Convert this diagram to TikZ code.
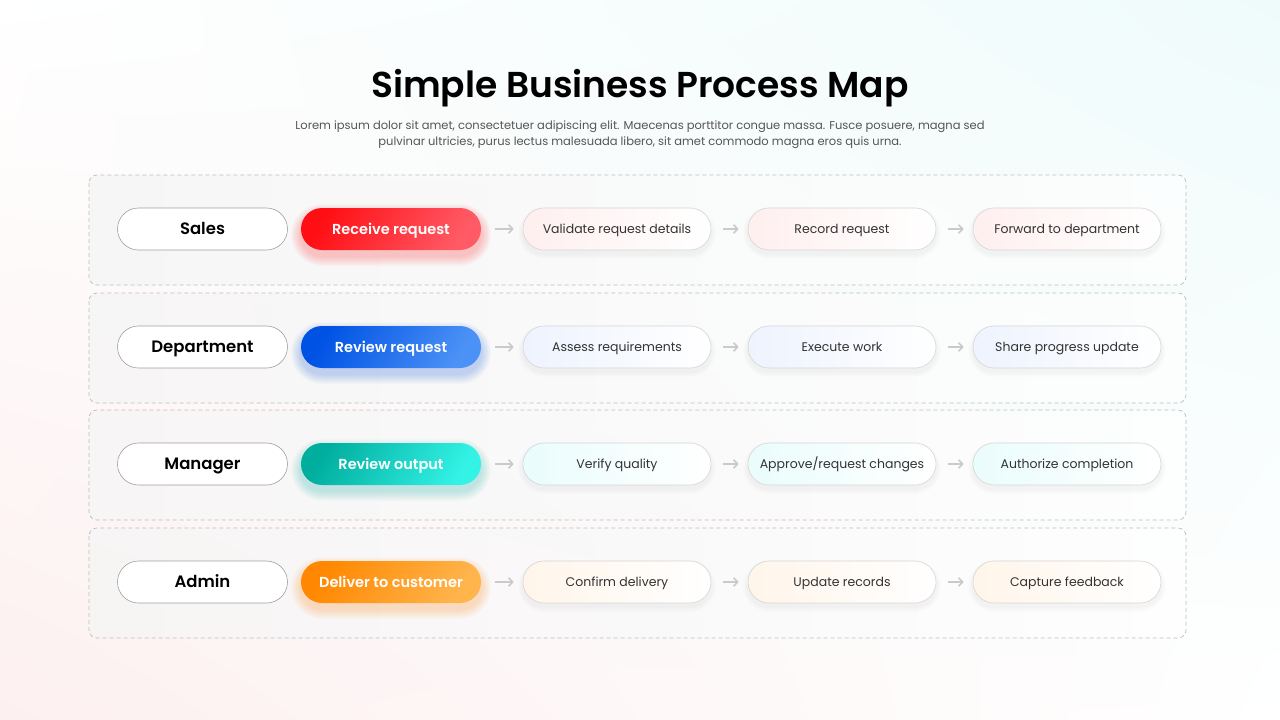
\documentclass[tikz,border=0pt]{standalone}
\usepackage{fontspec}
\setmainfont{Poppins}
\newfontfamily\psemi{Poppins SemiBold}
\usetikzlibrary{arrows.meta,shadings}
\definecolor{redA}{HTML}{FF0F14}\definecolor{redB}{HTML}{FF5A66}\definecolor{redT}{HTML}{FFEFEF}
\definecolor{blueA}{HTML}{0052E4}\definecolor{blueB}{HTML}{4C92F6}\definecolor{blueT}{HTML}{EEF3FE}
\definecolor{tealA}{HTML}{00AE9E}\definecolor{tealB}{HTML}{33F2E6}\definecolor{tealT}{HTML}{EAFCFC}
\definecolor{orgA}{HTML}{FF8800}\definecolor{orgB}{HTML}{FFB44C}\definecolor{orgT}{HTML}{FFF5EA}
\definecolor{bgTR}{HTML}{EFFBFB}\definecolor{bgBL}{HTML}{FDF0F0}
\definecolor{linegray}{HTML}{BEBEBE}\definecolor{pillgray}{HTML}{D6D6D6}\definecolor{arrgray}{HTML}{CACACA}
\definecolor{txtgray}{HTML}{333333}\definecolor{subgray}{HTML}{555555}
\tikzset{
  panel/.style={draw=linegray, dash pattern=on 4pt off 3pt, line width=0.75pt, rounded corners=8pt},
  rolebox/.style={draw=gray!75, line width=0.6pt, fill=white, rounded corners=21pt, minimum width=170pt, minimum height=42pt, inner sep=0pt, text height=13.5pt, text depth=1.9pt, font=\fontsize{16.5}{20}\psemi, text=black},
  actbox/.style={rounded corners=21pt, minimum width=180pt, minimum height=42pt, inner sep=0pt, text height=12pt, text depth=1.8pt, text=white, font=\fontsize{14.5}{18}\psemi},
  stepbox/.style={draw=pillgray, line width=0.6pt, rounded corners=21pt, minimum width=188pt, minimum height=42pt, inner sep=0pt, text height=10.2pt, text depth=1.5pt, text=txtgray, font=\fontsize{12.5}{16}\selectfont},
  arr/.style={draw=arrgray, line width=1.6pt, -{Straight Barb[length=4pt,width=8.5pt]}},
}
\newcommand\lane[8]{%
  % #1 y, #2 idx, #3 role, #4 action, #5 color prefix, #6-#8 steps
  \draw[panel, left color=gray!8, right color=white, fill opacity=0.7] (89,{#1-54}) rectangle (1186,{#1+56});
  \foreach \i in {1,...,10}{
    \fill[#5A, opacity=0.022, rounded corners={21pt+\i pt}] ({301-\i},{#1+6-21-\i}) rectangle ({481+\i},{#1+6+21+\i});
  }
  \foreach \xx in {617,842,1067}{
    \foreach \i in {1,...,5}{
      \fill[black, opacity=0.008, rounded corners={21pt+\i pt}] ({\xx-94-\i},{#1+4-21-\i}) rectangle ({\xx+94+\i},{#1+4+21+\i});
    }
  }
  \node[rolebox] (r#2) at (202.5,#1) {#3};
  \node[actbox, left color=#5A, right color=#5B, shading angle=60] (c#2) at (391,#1) {#4};
  \node[stepbox, left color=#5T, right color=white] (s#2a) at (617,#1) {#6};
  \node[stepbox, left color=#5T, right color=white] (s#2b) at (842,#1) {#7};
  \node[stepbox, left color=#5T, right color=white] (s#2c) at (1067,#1) {#8};
  \draw[arr] ([xshift=14pt]c#2.east) -- ([xshift=-9pt]s#2a.west);
  \draw[arr] ([xshift=12pt]s#2a.east) -- ([xshift=-9pt]s#2b.west);
  \draw[arr] ([xshift=12pt]s#2b.east) -- ([xshift=-9pt]s#2c.west);
}
\begin{document}
\begin{tikzpicture}[x=1pt,y=-1pt]
\useasboundingbox (0,0) rectangle (1280,720);
\shade[upper left=white, upper right=bgTR, lower left=bgBL, lower right=white] (0,0) rectangle (1280,720);
\node[font=\fontsize{36}{42}\psemi, text=black, text height=29pt, text depth=4pt, inner sep=0pt] (title) at (640,85) {Simple Business Process Map};
\node[font=\fontsize{11.5}{16}\selectfont, text=subgray, align=center] (sub) at (640,135) {Lorem ipsum dolor sit amet, consectetuer adipiscing elit. Maecenas porttitor congue massa. Fusce posuere, magna sed\\pulvinar ultricies, purus lectus malesuada libero, sit amet commodo magna eros quis urna.};
\lane{229}{1}{Sales}{Receive request}{red}{Validate request details}{Record request}{Forward to department}
\lane{347}{2}{Department}{Review request}{blue}{Assess requirements}{Execute work}{Share progress update}
\lane{464}{3}{Manager}{Review output}{teal}{Verify quality}{Approve/request changes}{Authorize completion}
\lane{582}{4}{Admin}{Deliver to customer}{org}{Confirm delivery}{Update records}{Capture feedback}
\end{tikzpicture}
\end{document}
